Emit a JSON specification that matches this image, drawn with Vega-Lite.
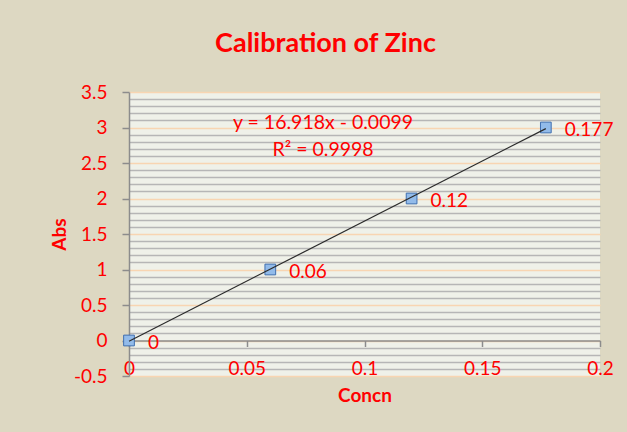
{
  "$schema": "https://vega.github.io/schema/vega-lite/v6.json",
  "width": 471,
  "height": 284,
  "autosize": "none",
  "padding": {"left": 129, "top": 92, "right": 27, "bottom": 56},
  "background": "#ddd8c2",
  "config": {"view": {"fill": "#eff1e9", "stroke": null}, "font": "Lato"},
  "title": {"text": "Calibration of Zinc", "color": "#ff0000", "fontSize": 27, "fontWeight": "bold", "font": "Lato", "dx": -39, "offset": 25},
  "datasets": {
    "calib": [
      {"concn": 0, "abs": 0},
      {"concn": 0.06, "abs": 1},
      {"concn": 0.12, "abs": 2},
      {"concn": 0.177, "abs": 3}
    ],
    "eq": [
      {"concn": 0.0824, "abs": 3.06, "label": "y = 16.918x - 0.0099"},
      {"concn": 0.0824, "abs": 2.68, "label": "R² = 0.9998"}
    ]
  },
  "layer": [
    {
      "data": {"name": "calib"},
      "mark": {"type": "square", "size": 115, "filled": true, "fill": "#92bbea", "stroke": "#3f6fb0", "strokeWidth": 1, "opacity": 1},
      "encoding": {
        "x": {
          "field": "concn", "type": "quantitative",
          "scale": {"domain": [0, 0.2], "nice": false, "zero": false},
          "axis": {
            "title": "Concn", "orient": "bottom", "offset": -35.5,
            "values": [0, 0.05, 0.1, 0.15, 0.2],
            "tickCount": 20,
            "labelExpr": "'' + datum.value",
            "grid": false,
            "domainColor": "#8c8c8c", "domainWidth": 1.5,
            "tickColor": "#8c8c8c", "tickSize": 6, "tickWidth": 1.5,
            "labelColor": "#ff0000", "labelFontSize": 19, "labelPadding": 13,
            "labelFlush": false, "labelOverlap": false,
            "titleColor": "#ff0000", "titleFontSize": 19, "titleFontWeight": "bold", "titlePadding": 8
          }
        },
        "y": {
          "field": "abs", "type": "quantitative",
          "scale": {"domain": [-0.5, 3.5], "nice": false, "zero": false},
          "axis": {
            "title": "Abs",
            "values": [-0.5, -0.4, -0.3, -0.2, -0.1, 0, 0.1, 0.2, 0.3, 0.4, 0.5, 0.6, 0.7, 0.8, 0.9, 1, 1.1, 1.2, 1.3, 1.4, 1.5, 1.6, 1.7, 1.8, 1.9, 2, 2.1, 2.2, 2.3, 2.4, 2.5, 2.6, 2.7, 2.8, 2.9, 3, 3.1, 3.2, 3.3, 3.4, 3.5],
            "tickCount": 100,
            "labelExpr": "abs(datum.value*2 - round(datum.value*2)) < 0.001 ? '' + datum.value : ''",
            "grid": true,
            "gridColor": {"condition": {"test": "abs(datum.value*2 - round(datum.value*2)) < 0.001", "value": "#f8d5b2"}, "value": "#b6b6b6"},
            "gridWidth": 1.6,
            "tickOpacity": {"condition": {"test": "abs(datum.value*2 - round(datum.value*2)) < 0.001", "value": 1}, "value": 0},
            "tickSize": 7, "tickColor": "#8c8c8c", "tickWidth": 1.5,
            "domainColor": "#8c8c8c", "domainWidth": 1.5,
            "labelColor": "#ff0000", "labelFontSize": 19, "labelPadding": 15, "labelOverlap": false,
            "titleColor": "#ff0000", "titleFontSize": 19, "titleFontWeight": "bold", "titlePadding": 4
          }
        }
      }
    },
    {
      "data": {"name": "calib"},
      "transform": [{"regression": "abs", "on": "concn"}],
      "mark": {"type": "line", "color": "#2b2b2b", "strokeWidth": 1.2},
      "encoding": {
        "x": {"field": "concn", "type": "quantitative"},
        "y": {"field": "abs", "type": "quantitative"}
      }
    },
    {
      "data": {"name": "calib"},
      "mark": {"type": "text", "align": "left", "baseline": "middle", "dx": 19, "dy": 2, "fontSize": 19, "color": "#ff0000"},
      "encoding": {
        "x": {"field": "concn", "type": "quantitative"},
        "y": {"field": "abs", "type": "quantitative"},
        "text": {"field": "concn", "type": "nominal"}
      }
    },
    {
      "data": {"name": "eq"},
      "mark": {"type": "text", "align": "center", "baseline": "middle", "fontSize": 19.5, "color": "#ff0000"},
      "encoding": {
        "x": {"field": "concn", "type": "quantitative"},
        "y": {"field": "abs", "type": "quantitative"},
        "text": {"field": "label", "type": "nominal"}
      }
    }
  ]
}
